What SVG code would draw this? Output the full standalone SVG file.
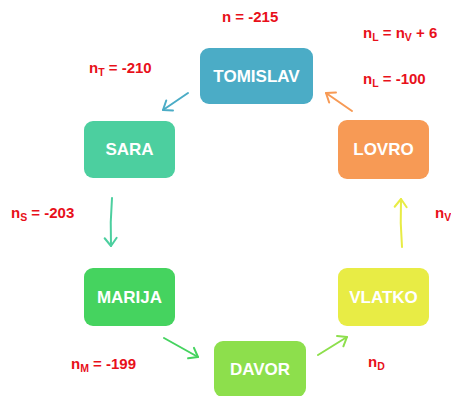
<svg xmlns="http://www.w3.org/2000/svg" width="451" height="396" viewBox="0 0 451 396">
  <style>
    .box text { font-family: "Liberation Sans", Arial, sans-serif; font-weight: bold; font-size: 17px; fill: #ffffff; text-anchor: middle; }
    .lbl { font-family: "Liberation Sans", Arial, sans-serif; font-weight: bold; font-size: 15px; fill: #e8101a; }
    .sub { font-size: 10.5px; }
    .conn path { fill: none; stroke-width: 2; stroke-linecap: round; }
  </style>
  <defs>
    <marker id="hTeal" markerUnits="userSpaceOnUse" markerWidth="20" markerHeight="20" refX="0" refY="0" viewBox="-10 -10 20 20" orient="auto" overflow="visible">
      <path d="M-8,-6 L0,0 L-8,6" fill="none" stroke="#4bacc6" stroke-width="2" stroke-linecap="round" stroke-linejoin="round"/>
    </marker>
    <marker id="hMint" markerUnits="userSpaceOnUse" markerWidth="20" markerHeight="20" refX="0" refY="0" viewBox="-10 -10 20 20" orient="auto" overflow="visible">
      <path d="M-8,-6 L0,0 L-8,6" fill="none" stroke="#4ccf9f" stroke-width="2" stroke-linecap="round" stroke-linejoin="round"/>
    </marker>
    <marker id="hGreen" markerUnits="userSpaceOnUse" markerWidth="20" markerHeight="20" refX="0" refY="0" viewBox="-10 -10 20 20" orient="auto" overflow="visible">
      <path d="M-8,-6 L0,0 L-8,6" fill="none" stroke="#45d35f" stroke-width="2" stroke-linecap="round" stroke-linejoin="round"/>
    </marker>
    <marker id="hLime" markerUnits="userSpaceOnUse" markerWidth="20" markerHeight="20" refX="0" refY="0" viewBox="-10 -10 20 20" orient="auto" overflow="visible">
      <path d="M-8,-6 L0,0 L-8,6" fill="none" stroke="#8ddf4c" stroke-width="2" stroke-linecap="round" stroke-linejoin="round"/>
    </marker>
    <marker id="hYellow" markerUnits="userSpaceOnUse" markerWidth="20" markerHeight="20" refX="0" refY="0" viewBox="-10 -10 20 20" orient="auto" overflow="visible">
      <path d="M-8,-6 L0,0 L-8,6" fill="none" stroke="#e8ec45" stroke-width="2" stroke-linecap="round" stroke-linejoin="round"/>
    </marker>
    <marker id="hOrange" markerUnits="userSpaceOnUse" markerWidth="20" markerHeight="20" refX="0" refY="0" viewBox="-10 -10 20 20" orient="auto" overflow="visible">
      <path d="M-8,-6 L0,0 L-8,6" fill="none" stroke="#f79a55" stroke-width="2" stroke-linecap="round" stroke-linejoin="round"/>
    </marker>
  </defs>

  <rect width="451" height="396" fill="#ffffff"/>

  <!-- connectors -->
  <g id="connectors" class="conn">
    <path d="M188,93 L163,110" stroke="#4bacc6" marker-end="url(#hTeal)"/>
    <path d="M112,198 Q110,222 111,246" stroke="#4ccf9f" marker-end="url(#hMint)"/>
    <path d="M164,338 L198,357" stroke="#45d35f" marker-end="url(#hGreen)"/>
    <path d="M318,355 L347,337" stroke="#8ddf4c" marker-end="url(#hLime)"/>
    <path d="M402,247 Q400,223 401,199" stroke="#e8ec45" marker-end="url(#hYellow)"/>
    <path d="M352,111 L326,93" stroke="#f79a55" marker-end="url(#hOrange)"/>
  </g>

  <!-- nodes -->
  <g id="tomislav" class="box">
    <rect x="200" y="48" width="113" height="56" rx="9" fill="#4bacc6"/>
    <text x="256.5" y="82">TOMISLAV</text>
  </g>
  <g id="sara" class="box">
    <rect x="84" y="121" width="91" height="57" rx="9" fill="#4ccf9f"/>
    <text x="129.5" y="155">SARA</text>
  </g>
  <g id="marija" class="box">
    <rect x="84" y="268" width="91" height="58" rx="9" fill="#45d35f"/>
    <text x="129.5" y="303">MARIJA</text>
  </g>
  <g id="davor" class="box">
    <rect x="214" y="341" width="92" height="56" rx="9" fill="#8ddf4c"/>
    <text x="260" y="375">DAVOR</text>
  </g>
  <g id="vlatko" class="box">
    <rect x="338" y="268" width="91" height="58" rx="9" fill="#e8ec45"/>
    <text x="383.5" y="303">VLATKO</text>
  </g>
  <g id="lovro" class="box">
    <rect x="338" y="120" width="91" height="59" rx="9" fill="#f79a55"/>
    <text x="383.5" y="155">LOVRO</text>
  </g>

  <!-- labels -->
  <g id="labels">
    <text class="lbl" x="222" y="22">n = -215</text>
    <text class="lbl" x="363" y="38">n<tspan class="sub" dy="3">L</tspan><tspan dy="-3"> = n</tspan><tspan class="sub" dy="3">V</tspan><tspan dy="-3"> + 6</tspan></text>
    <text class="lbl" x="363" y="84">n<tspan class="sub" dy="3">L</tspan><tspan dy="-3"> = -100</tspan></text>
    <text class="lbl" x="89" y="73">n<tspan class="sub" dy="3">T</tspan><tspan dy="-3"> = -210</tspan></text>
    <text class="lbl" x="11" y="218">n<tspan class="sub" dy="3">S</tspan><tspan dy="-3"> = -203</tspan></text>
    <text class="lbl" x="71" y="369">n<tspan class="sub" dy="3">M</tspan><tspan dy="-3">  = -199</tspan></text>
    <text class="lbl" x="368" y="367">n<tspan class="sub" dy="3">D</tspan></text>
    <text class="lbl" x="435" y="218">n<tspan class="sub" dy="3">V</tspan></text>
  </g>
</svg>
